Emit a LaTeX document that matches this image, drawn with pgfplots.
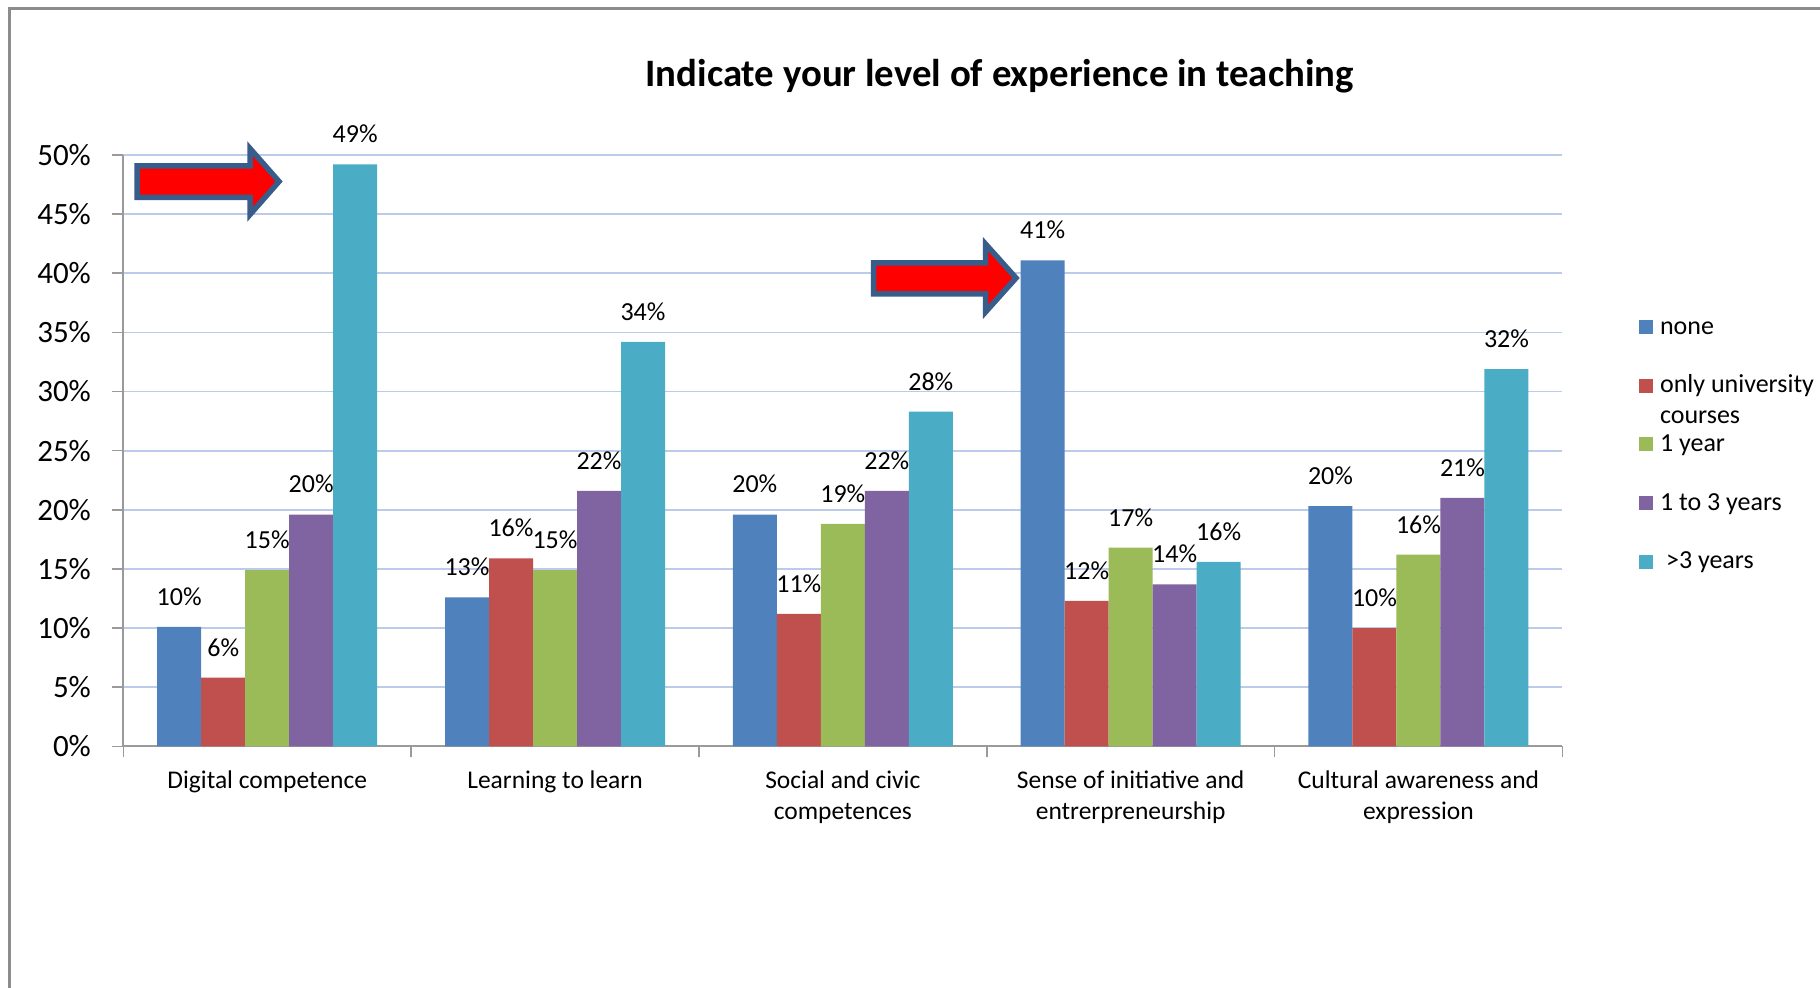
\documentclass[border=0pt]{standalone}
\usepackage{pgfplots}
\pgfplotsset{compat=1.18}
\usepackage{fontspec}
\setmainfont{Carlito}
\definecolor{cnone}{HTML}{4F81BD}
\definecolor{cuni}{HTML}{C0504D}
\definecolor{cone}{HTML}{9BBB59}
\definecolor{cthree}{HTML}{8064A2}
\definecolor{cmore}{HTML}{4BACC6}
\definecolor{gridblue}{HTML}{BCCBEA}
\definecolor{framegray}{HTML}{8C8C8C}
\definecolor{axisgray}{HTML}{9A9A9A}
\definecolor{arrowedge}{HTML}{385D8A}
\begin{document}
\begin{tikzpicture}
\useasboundingbox (0pt,0pt) rectangle (910pt,-494pt);
\fill[white] (0pt,0pt) rectangle (910pt,-494pt);
\draw[line width=1.35pt, color=framegray] (4.9pt,-494pt) -- (4.9pt,-4.15pt) -- (910pt,-4.15pt);
\node[anchor=base, font=\fontsize{19.4}{23}\selectfont\bfseries] at (499.85pt,-43.3pt) {Indicate your level of experience in teaching};
\begin{axis}[
  at={(61.65pt,-373.15pt)}, anchor=south west, scale only axis,
  width=719.55pt, height=295.65pt,
  ybar=0pt, bar width=22pt,
  xmin=-0.5, xmax=4.5, ymin=0, ymax=50,
  clip=false,
  axis lines*=left,
  axis line style={color=axisgray, line width=0.9pt},
  tick align=outside,
  /pgf/number format/assume math mode=true,
  ytick={0,5,...,50},
  yticklabel={\pgfmathprintnumber{\tick}\%},
  yticklabel style={font=\fontsize{15.5}{18}\selectfont, anchor=east, inner sep=0pt, xshift=-10.5pt},
  ymajorgrids, grid style={color=gridblue, line width=0.85pt},
  major tick length=5.5pt, minor tick length=5.5pt,
  ytick style={color=axisgray, line width=0.8pt},
  xtick={0,1,2,3,4},
  minor xtick={-0.5,0.5,1.5,2.5,3.5,4.5},
  major x tick style={draw=none},
  minor x tick style={color=axisgray, line width=0.8pt},
  xticklabels={Digital competence, Learning to learn, {Social and civic\\competences}, {Sense of initiative and\\entrerpreneurship}, {Cultural awareness and\\expression}},
  xticklabel style={font=\fontsize{12.75}{15.5}\selectfont, align=center, anchor=north, inner sep=0pt, yshift=-6.5pt},
  nodes near coords={\pgfmathprintnumber[fixed,precision=0]{\pgfplotspointmeta}\%},
  nodes near coords style={font=\fontsize{13}{15}\selectfont, anchor=base, inner sep=0pt, yshift=10.8pt, color=black},
  legend style={draw=none, fill=none, at={(1.053,0.7313)}, anchor=north west, inner sep=0pt, row sep=16.3pt, column sep=3.5pt, font=\fontsize{13}{15.5}\selectfont, nodes={inner sep=0pt, text height=10pt, text depth=3pt}},
  legend cell align=left,
  legend image code/.code={\fill[#1] (0pt,-3.5pt) rectangle (7pt,3.5pt);},
]
\addplot[fill=cnone, draw=none] coordinates {(0,10.1) (1,12.6) (2,19.6) (3,41.1) (4,20.3)};
\addplot[fill=cuni, draw=none] coordinates {(0,5.8) (1,15.9) (2,11.2) (3,12.3) (4,10.0)};
\addplot[fill=cone, draw=none] coordinates {(0,14.9) (1,14.9) (2,18.8) (3,16.8) (4,16.2)};
\addplot[fill=cthree, draw=none] coordinates {(0,19.6) (1,21.6) (2,21.6) (3,13.7) (4,21.0)};
\addplot[fill=cmore, draw=none] coordinates {(0,49.2) (1,34.2) (2,28.3) (3,15.6) (4,31.9)};
\legend{none, {\begin{tabular}[t]{@{}l@{}}only university\\courses\end{tabular}}, 1 year, 1 to 3 years, {\hspace{3pt}>3 years}}
\end{axis}
\begin{scope}[x=0.5pt, y=-0.5pt]
\filldraw[fill=red, draw=arrowedge, line width=2.75pt, line join=miter] (137,166) -- (250,166) -- (250,148.5) -- (279,181.5) -- (250,214.5) -- (250,197.5) -- (137,197.5) -- cycle;
\filldraw[fill=red, draw=arrowedge, line width=2.75pt, line join=miter] (873.5,263) -- (985.5,263) -- (985.5,244) -- (1016,278) -- (985.5,312) -- (985.5,294) -- (873.5,294) -- cycle;
\end{scope}
\end{tikzpicture}
\end{document}
